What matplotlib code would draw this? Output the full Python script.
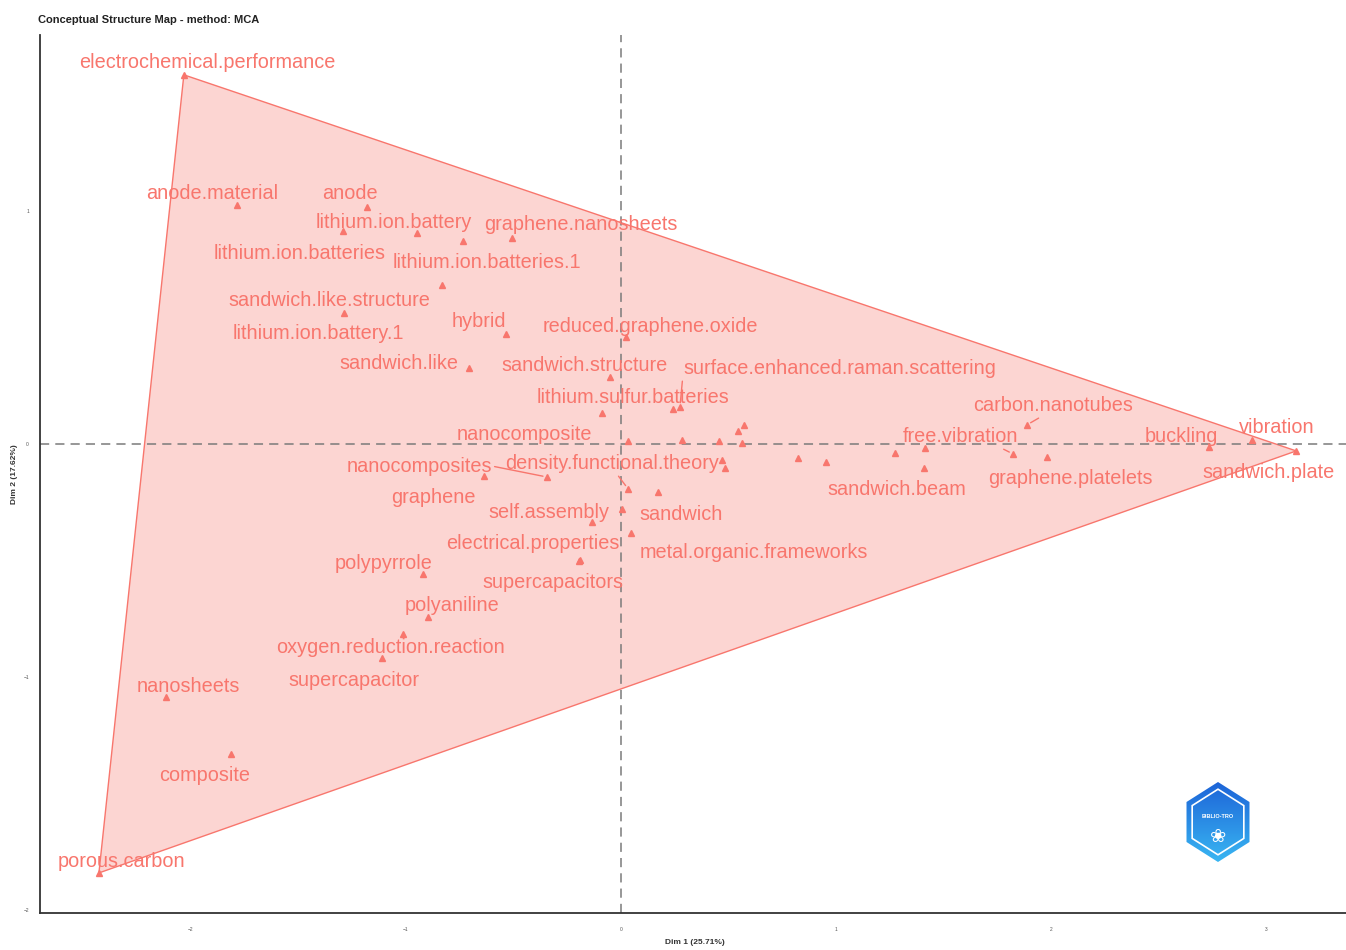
import numpy as np
import matplotlib
matplotlib.use("Agg")
import matplotlib.pyplot as plt
from matplotlib.patches import Polygon, RegularPolygon

plt.rcParams['font.family'] = ['Liberation Sans', 'DejaVu Sans']

# terms of the MCA map (Dim1, Dim2)
terms = ['electrochemical.performance', 'anode.material', 'anode', 'lithium.ion.batteries',
         'lithium.ion.battery', 'lithium.ion.batteries.1', 'graphene.nanosheets',
         'sandwich.like.structure', 'lithium.ion.battery.1', 'hybrid', 'reduced.graphene.oxide',
         'sandwich.like', 'sandwich.structure', 'surface.enhanced.raman.scattering',
         'lithium.sulfur.batteries', 'nanocomposite', 'nanocomposites', 'density.functional.theory',
         'graphene', 'self.assembly', 'sandwich', 'electrical.properties', 'supercapacitors',
         'metal.organic.frameworks', 'polypyrrole', 'polyaniline', 'oxygen.reduction.reaction',
         'supercapacitor', 'nanosheets', 'composite', 'porous.carbon', 'free.vibration',
         'carbon.nanotubes', 'sandwich.beam', 'graphene.platelets', 'buckling', 'vibration',
         'sandwich.plate']
dim1 = [-2.033, -1.786, -1.181, -1.293, -0.949, -0.735, -0.507, -0.833, -1.288, -0.535, 0.023,
        -0.707, -0.051, 0.274, 0.242, 0.033, -0.344, 0.033, -0.637, -0.135, 0.005, -0.191, -0.195,
        0.047, -0.921, -0.898, -1.014, -1.112, -2.116, -1.814, -2.428, 1.823, 1.888, 1.409, 1.981,
        2.735, 2.935, 3.140]
dim2 = [1.584, 1.026, 1.017, 0.914, 0.906, 0.871, 0.884, 0.682, 0.562, 0.472, 0.459, 0.326, 0.288,
        0.159, 0.150, 0.013, -0.142, -0.193, -0.137, -0.335, -0.279, -0.498, -0.502, -0.382,
        -0.558, -0.742, -0.815, -0.918, -1.086, -1.330, -1.841, -0.043, 0.082, -0.103, -0.056,
        -0.013, 0.017, -0.030]

# terms whose labels were dropped (too many overlaps)
hidden_dim1 = [-0.088, 0.284, 0.456, 0.544, 0.572, 0.563, 0.470, 0.484, 0.823, 0.953, 1.274, 1.414, 0.172]
hidden_dim2 = [0.133, 0.017, 0.013, 0.056, 0.082, 0.004, -0.069, -0.103, -0.060, -0.077, -0.039, -0.017, -0.206]

# repelled label offsets (pixels) and segment anchors
label_offsets = [(23, 12), (-25, 11), (-17, 13), (-43, -23), (-23, 10), (24, -22), (69, 13),
                 (-113, -15), (-26, -21), (-27, 12), (24, 10), (-70, 4), (-26, 11), (160, 38),
                 (-40, 11), (-104, 6), (-128, 11), (-16, 25), (-51, -22), (-43, 10), (59, -6),
                 (-47, 16), (-26, -22), (123, -20), (-39, 10), (24, 11), (-12, -14), (-28, -23),
                 (22, 10), (-26, -22), (23, 11), (-53, 17), (26, 19), (-27, -22), (23, -22),
                 (-28, 10), (25, 12), (-28, -22)]
segments = {'surface.enhanced.raman.scattering': (0.0, 0.5), 'nanocomposites': (1.0, 0.5),
            'density.functional.theory': (0.52, 0.0), 'free.vibration': (0.83, 0.0),
            'carbon.nanotubes': (0.44, 0.0)}

col = '#F8766D'

fig = plt.figure(figsize=(13.46, 9.5), dpi=100)
ax = fig.add_axes([40 / 1346, 37 / 950, 1310 / 1346, 878 / 950])

all_x = np.array(dim1 + hidden_dim1)
all_y = np.array(dim2 + hidden_dim2)


def hull(px, py):
    pts = sorted(set(zip(px, py)))

    def cross(o, a, b):
        return (a[0] - o[0]) * (b[1] - o[1]) - (a[1] - o[1]) * (b[0] - o[0])
    lower, upper = [], []
    for p in pts:
        while len(lower) >= 2 and cross(lower[-2], lower[-1], p) <= 0:
            lower.pop()
        lower.append(p)
    for p in reversed(pts):
        while len(upper) >= 2 and cross(upper[-2], upper[-1], p) <= 0:
            upper.pop()
        upper.append(p)
    return lower[:-1] + upper[:-1]


ax.add_patch(Polygon(hull(all_x, all_y), closed=True, facecolor=col, alpha=0.3, edgecolor='none'))
ax.add_patch(Polygon(hull(all_x, all_y), closed=True, facecolor='none', edgecolor=col, lw=1.0))

ax.axhline(0, color='#7a7a7a', ls=(0, (6, 4)), lw=1.1, zorder=1)
ax.axvline(0, color='#7a7a7a', ls=(0, (6, 4)), lw=1.1, zorder=1)

ax.plot(all_x, all_y, ls='none', marker='^', ms=5, color=col, mec=col, zorder=3)

for name, x, y, off in zip(terms, dim1, dim2, label_offsets):
    arrow = None
    if name in segments:
        arrow = dict(arrowstyle='-', color=col, lw=1.0, relpos=segments[name],
                     shrinkA=0, shrinkB=3)
    ax.annotate(name, xy=(x, y), xytext=off, textcoords='offset pixels',
                ha='center', va='center', color=col, fontsize=14.3, arrowprops=arrow, zorder=4)

ax.set_xlim(-2.702, 3.39)
ax.set_ylim(-2.013, 1.755)
ax.set_xticks([-2, -1, 0, 1, 2, 3])
ax.set_yticks([-2, -1, 0, 1])
ax.tick_params(length=0, labelsize=3.5, labelcolor='#555555')
ax.tick_params(axis='x', pad=10)
ax.tick_params(axis='y', pad=8)
for s in ['top', 'right']:
    ax.spines[s].set_visible(False)
for s in ['left', 'bottom']:
    ax.spines[s].set_color('#333333')
    ax.spines[s].set_linewidth(1.3)
ax.set_xlabel('Dim 1 (25.71%)', fontsize=6, fontweight='bold', color='#333333', labelpad=5)
ax.set_ylabel('Dim 2 (17.62%)', fontsize=6, fontweight='bold', color='#333333', labelpad=4)
fig.text(38 / 1346, 1 - 20 / 950, 'Conceptual Structure Map - method: MCA', fontsize=8,
         fontweight='bold', va='center', ha='left', color='#222222')

# logo
lax = fig.add_axes([1178 / 1346, (950 - 866) / 950, 80 / 1346, 88 / 950])
lax.set_xlim(-1.1, 1.1)
lax.set_ylim(-1.1, 1.1)
lax.axis('off')
grad = np.linspace(0, 1, 100).reshape(-1, 1)
img = lax.imshow(grad, extent=(-1, 1, -1, 1), cmap=matplotlib.colors.LinearSegmentedColormap.from_list(
    'b', ['#39b6f2', '#1d64d8']), origin='lower', aspect='auto')
hexo = RegularPolygon((0, 0), 6, radius=1.0, orientation=0, transform=lax.transData, fc='none', ec='none')
lax.add_patch(hexo)
img.set_clip_path(hexo)
lax.add_patch(RegularPolygon((0, 0), 6, radius=0.82, orientation=0, fc='none', ec='white', lw=1.2))
lax.text(0, 0.15, 'BIBLIO-TRO', color='white', fontsize=4, fontweight='bold', ha='center', va='center')
lax.text(0, -0.35, '\u2740', color='white', fontsize=14, ha='center', va='center', family='DejaVu Sans')

fig.savefig('out.png', dpi=100)
